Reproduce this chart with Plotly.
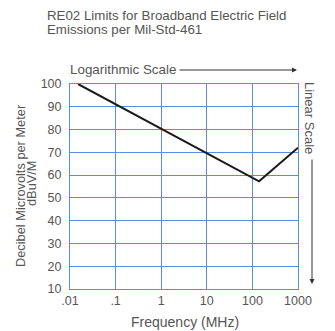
import plotly.graph_objects as go

freq_mhz = [0.015, 140, 1000]
limit_dbuv = [100, 57.3, 72]
x_tickvals = [0.01, 0.1, 1, 10, 100, 1000]
x_ticktext = [".01", ".1", "1", "10", "100", "1000"]
y_tickvals = [10, 20, 30, 40, 50, 60, 70, 80, 90, 100]

grid = "#5a8de2"
txt = "#555555"
font = "Liberation Sans"

fig = go.Figure()
fig.add_trace(go.Scatter(x=freq_mhz, y=limit_dbuv, mode="lines",
                         line=dict(color="#1a1a1a", width=2), showlegend=False))

# page has an 8px body margin; figure sized to fit the window
OFF = 8
W, H = 335 - OFF, 331 - OFF
L, T = 70 - OFF, 84 - OFF
R, B = W - (298 - OFF), H - (289 - OFF)
pw, ph = W - L - R, H - T - B
def px(x): return (x - OFF - L) / pw
def py(y): return (H - B - (y - OFF)) / ph

fig.update_layout(
    width=W, height=H,
    margin=dict(l=L, r=R, t=T, b=B),
    paper_bgcolor="white", plot_bgcolor="white",
    font=dict(family=font, color=txt, size=12),
    xaxis=dict(type="log", range=[-2, 3], tickvals=x_tickvals, ticktext=x_ticktext,
               showgrid=True, gridcolor=grid, gridwidth=1, showline=True,
               linecolor=grid, linewidth=1, mirror=True, zeroline=False,
               ticks="", tickfont=dict(size=12.5, color=txt)),
    yaxis=dict(range=[10, 100], tickvals=y_tickvals,
               showgrid=True, gridcolor=grid, gridwidth=1, showline=True,
               linecolor=grid, linewidth=1, mirror=True, zeroline=False,
               ticks="", ticklabelstandoff=5, tickfont=dict(size=12.5, color=txt)),
)

anns = [
    dict(text="RE02 Limits for Broadband Electric Field",
         x=px(45), y=py(16), xref="paper", yref="paper", xanchor="left", yanchor="middle",
         showarrow=False, font=dict(size=13.3, color=txt)),
    dict(text="Emissions per Mil-Std-461",
         x=px(45), y=py(29), xref="paper", yref="paper", xanchor="left", yanchor="middle",
         showarrow=False, font=dict(size=13.3, color=txt)),
    dict(text="Logarithmic Scale", x=px(68), y=py(70), xref="paper", yref="paper",
         xanchor="left", yanchor="middle", showarrow=False, font=dict(size=13.4, color=txt)),
    dict(text="", x=px(297), y=py(70), xref="paper", yref="paper", ax=-119, ay=0,
         showarrow=True, arrowhead=2, arrowsize=1, arrowwidth=1, arrowcolor="#333333"),
    dict(text="Linear Scale", x=px(310), y=py(118), xref="paper", yref="paper",
         xanchor="center", yanchor="middle", textangle=90, showarrow=False,
         font=dict(size=13, color=txt)),
    dict(text="", x=px(312), y=py(284), xref="paper", yref="paper", ax=0, ay=-126,
         showarrow=True, arrowhead=2, arrowsize=1, arrowwidth=1, arrowcolor="#333333"),
    dict(text="Decibel Microvolts per Meter", x=px(20), y=py(186),
         xref="paper", yref="paper", xanchor="center", yanchor="middle", textangle=-90,
         showarrow=False, font=dict(size=12.8, color=txt)),
    dict(text="dBuV/M", x=px(31), y=py(183),
         xref="paper", yref="paper", xanchor="center", yanchor="middle", textangle=-90,
         showarrow=False, font=dict(size=12.8, color=txt)),
    dict(text="Frequency (MHz)", x=px(185), y=py(322),
         xref="paper", yref="paper", xanchor="center", yanchor="middle",
         showarrow=False, font=dict(size=14, color=txt)),
]
fig.update_layout(annotations=anns)

fig.write_html("out.html")
